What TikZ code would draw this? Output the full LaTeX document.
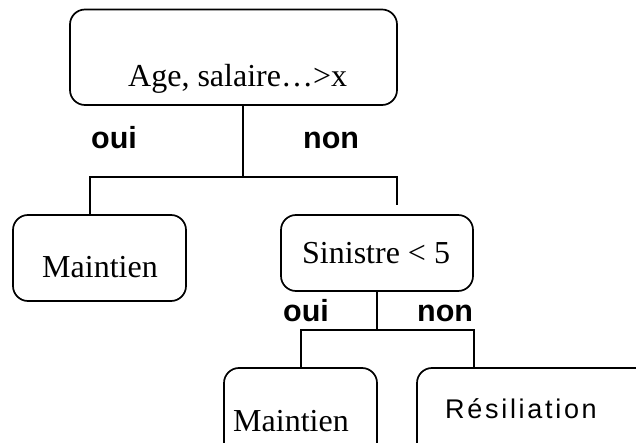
\documentclass[tikz,border=0pt]{standalone}
\usepackage{fontspec}
\setmainfont{Liberation Serif}
\newfontfamily\arialfont{Liberation Sans}
\newfontfamily\spacedfont[LetterSpace=10]{Liberation Sans}
\begin{document}
\begin{tikzpicture}[x=1pt,y=-1pt,
  box/.style={draw,line width=1.7pt,rounded corners=15pt,inner sep=0pt},
  lnk/.style={line width=1.7pt},
  serif/.style={anchor=base west,inner sep=0pt,font=\fontsize{32}{36}\selectfont},
  yesno/.style={anchor=base west,inner sep=0pt,font=\arialfont\bfseries\fontsize{30.5}{34}\selectfont},
  spaced/.style={anchor=base west,inner sep=0pt,font=\spacedfont\fontsize{27}{30}\selectfont}]
\useasboundingbox (0,0) rectangle (636,443);
\clip (0,0) rectangle (636,443);
% boxes
\node[box,minimum width=327pt,minimum height=95.5pt] (top) at (233.5,57.25) {};
\node[box,minimum width=173pt,minimum height=86pt] (main1) at (99.5,258) {};
\node[box,minimum width=192pt,minimum height=76pt] (sin) at (377,253) {};
\node[box,minimum width=153pt,minimum height=110pt] (main2) at (300.5,423) {};
\node[box,minimum width=260pt,minimum height=110pt] (res) at (547,423) {};
% texts
\node[serif] (tTop) at (128,87) {Age, salaire…>x};
\node[serif] (tMain1) at (42,277) {Maintien};
\node[serif] (tSin) at (302,263) {Sinistre < 5};
\node[serif] (tMain2) at (233,431) {Maintien};
\node[spaced] (tRes) at (445,418) {Résiliation};
\node[yesno] (oui1) at (91,149) {oui};
\node[yesno] (non1) at (303,149) {non};
\node[yesno] (oui2) at (283,321) {oui};
\node[yesno] (non2) at (417,321) {non};
% junctions
\coordinate (j1) at (243,177);
\coordinate (j1l) at (90,177);
\coordinate (j1r) at (397,177);
\coordinate (j1end) at (397,205);
\coordinate (j2) at (377,330);
\coordinate (j2l) at (301,330);
\coordinate (j2r) at (474,330);
% connectors
\draw[lnk] (top.south -| j1) -- (j1);
\draw[lnk] (j1l |- main1.north) -- (j1l) -- (j1r) -- (j1end);
\draw[lnk] (sin.south -| j2) -- (j2);
\draw[lnk] (j2l |- main2.north) -- (j2l) -- (j2r) -- (j2r |- res.north);
\end{tikzpicture}
\end{document}
